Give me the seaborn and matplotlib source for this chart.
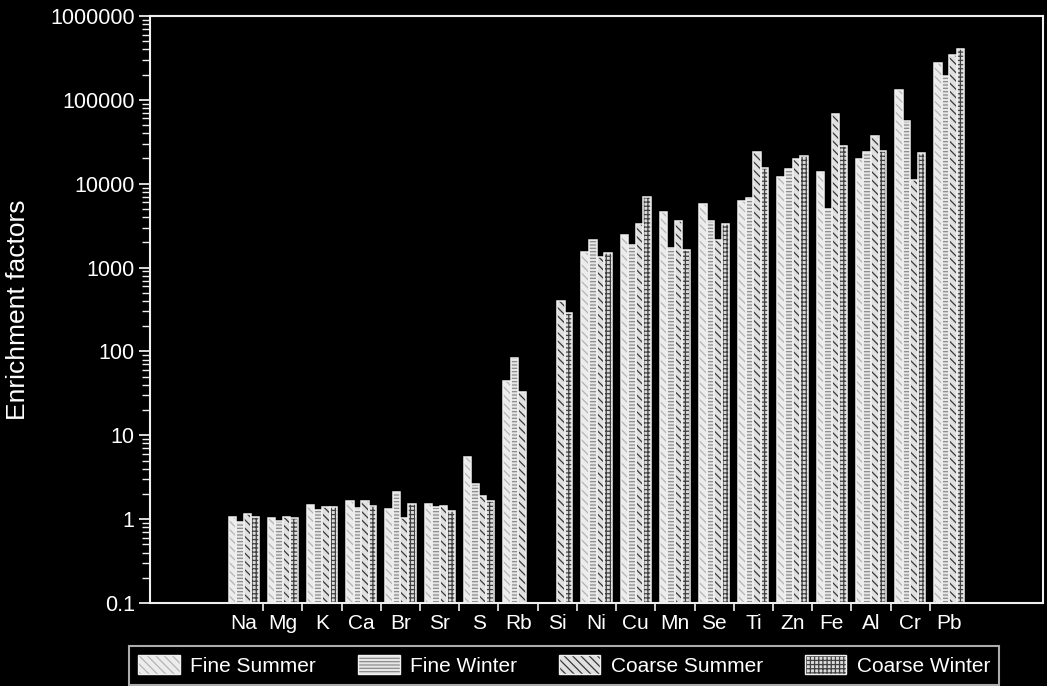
import numpy as np
import pandas as pd
import matplotlib
matplotlib.use("Agg")
import matplotlib.pyplot as plt
import seaborn as sns
from matplotlib.patches import Patch
from matplotlib.ticker import LogLocator, NullFormatter

# ---------------- data ----------------
categories = ["Na", "Mg", "K", "Ca", "Br", "Sr", "S", "Rb", "Si", "Ni",
              "Cu", "Mn", "Se", "Ti", "Zn", "Fe", "Al", "Cr", "Pb"]
series = ["Fine Summer", "Fine Winter", "Coarse Summer", "Coarse Winter"]
nan = np.nan
fine_summer = [1.07, 1.03, 1.46, 1.64, 1.31, 1.50, 5.5, 45, nan, 1540,
               2430, 4600, 5800, 6200, 12100, 13800, 19500, 130000, 275000]
fine_winter = [0.93, 0.95, 1.28, 1.37, 2.09, 1.38, 2.64, 84, nan, 2120,
               1850, 1690, 3570, 6840, 14800, 5060, 23900, 56100, 191000]
coarse_summer = [1.14, 1.06, 1.38, 1.64, 1.04, 1.43, 1.87, 33, 401, 1340,
                 3350, 3570, 2160, 23900, 19500, 68700, 36800, 11000, 340000]
coarse_winter = [1.05, 1.03, 1.41, 1.43, 1.50, 1.26, 1.66, nan, 284, 1510,
                 6970, 1610, 3290, 15200, 21300, 28300, 24600, 23300, 401000]
y_ticks = [0.1, 1, 10, 100, 1000, 10000, 100000, 1000000]
y_tick_labels = ["0.1", "1", "10", "100", "1000", "10000", "100000", "1000000"]
y_label = "Enrichment factors"

# ---------------- styling ----------------
facecolors = ["#ececec", "#e6e6e6", "#e0e0e0", "#dcdcdc"]
hatchcolors = ["#b4b4b4", "#8c8c8c", "#383838", "#404040"]
hatches = ["\\\\\\\\", "-----", "\\\\\\\\", "++++"]
outline = "#f0f0f0"

plt.rcParams["font.family"] = ["Liberation Sans", "DejaVu Sans"]
plt.rcParams["hatch.linewidth"] = 0.9

df = pd.DataFrame({"element": categories,
                   "Fine Summer": fine_summer,
                   "Fine Winter": fine_winter,
                   "Coarse Summer": coarse_summer,
                   "Coarse Winter": coarse_winter})
long = df.melt(id_vars="element", var_name="series", value_name="value").dropna()

fig = plt.figure(figsize=(10.47, 6.86), dpi=100, facecolor="black")
ax = fig.add_axes([150 / 1047, 1 - 603 / 686, 893 / 1047, 587 / 686])
ax.set_facecolor("black")

sns.barplot(data=long, x="element", y="value", hue="series",
            order=categories, hue_order=series, width=0.77,
            errorbar=None, legend=False,
            palette=facecolors, saturation=1, linewidth=0, ax=ax)
for i, cont in enumerate(ax.containers[:4]):
    for bar in cont:
        bar.set_hatch(hatches[i])
        bar.set_edgecolor(hatchcolors[i])
        bar.set_linewidth(0)

sns.barplot(data=long, x="element", y="value", hue="series",
            order=categories, hue_order=series, width=0.77,
            errorbar=None, legend=False, fill=False,
            palette=[outline] * 4, saturation=1, linewidth=1.1, ax=ax)

ax.set_yscale("log")
ax.set_xlim(-2.387, 20.387)
ax.set_ylim(0.1, 1e6)
ax.set_yticks(y_ticks, y_tick_labels)
ax.yaxis.set_minor_locator(LogLocator(base=10, subs=np.arange(2, 10)))
ax.yaxis.set_minor_formatter(NullFormatter())
ax.set_xticks(np.arange(0.5, len(categories) - 1), minor=True)

ax.tick_params(axis="x", which="major", length=0, pad=8, labelsize=15,
               colors="white")
ax.tick_params(axis="x", which="minor", length=6, width=1.2, colors=outline,
               direction="out")
ax.tick_params(axis="y", which="major", length=8, width=1.2, pad=3,
               labelsize=15.5, colors="white", direction="out")
ax.tick_params(axis="y", which="minor", length=6, width=1.0, colors=outline,
               direction="out")
for sp in ax.spines.values():
    sp.set_color(outline)
    sp.set_linewidth(1.5)

ax.set_xlabel("")
ax.set_ylabel(y_label, fontsize=19, color="white", va="center")
ax.yaxis.set_label_coords(-0.148, 0.5)

handles = [(Patch(facecolor=facecolors[i], hatch=hatches[i],
                  edgecolor=hatchcolors[i], lw=0),
            Patch(fill=False, edgecolor=outline, lw=1))
           for i in range(4)]
leg = fig.legend(handles, series, loc="upper left",
                 bbox_to_anchor=(129 / 1047, 1 - 646 / 686), ncol=4,
                 frameon=True, fancybox=False, facecolor="black",
                 edgecolor="#d8d8d8", fontsize=15, handlelength=2.0,
                 handleheight=1.0, handletextpad=0.5, columnspacing=2.0,
                 borderpad=0.45, labelcolor="white", borderaxespad=0)
leg.get_frame().set_linewidth(1.5)

fig.savefig("out.png", dpi=100, facecolor="black")
